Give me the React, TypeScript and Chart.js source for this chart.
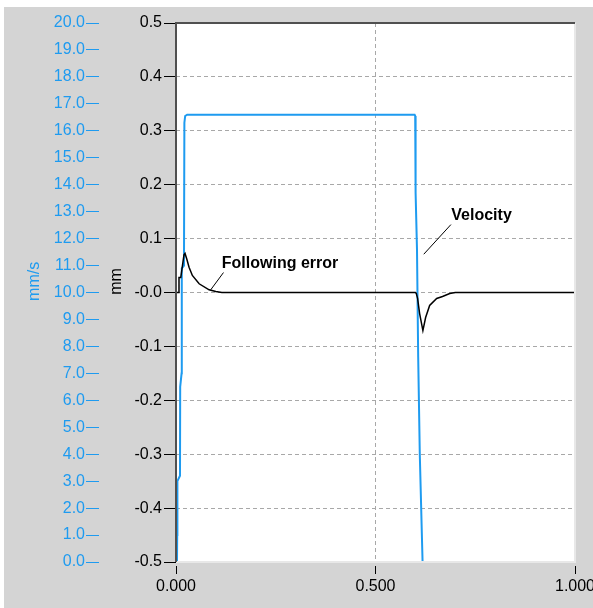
import React, { useEffect, useRef } from 'react';
import { Chart, registerables } from 'chart.js';

Chart.register(...registerables);

// Time axis (s)
const xTickValues = [0, 0.5, 1];

// Velocity (mm/s) vs time
const timeVelocity = [0.0025, 0.003, 0.0035, 0.010, 0.0105, 0.014, 0.0145, 0.020, 0.021, 0.023, 0.028, 0.598, 0.5995, 0.6005, 0.604, 0.607, 0.611, 0.618];
const velocityMmS = [0, 1.0, 3.0, 3.2, 6.5, 7.0, 10.9, 11.0, 16.3, 16.55, 16.6, 16.6, 16.55, 13.7, 11.6, 7.6, 4.0, 0];

// Following error (mm) vs time
const timeError = [0, 0.007, 0.0075, 0.012, 0.020, 0.0226, 0.027, 0.0327, 0.041, 0.058, 0.083, 0.0997, 0.115, 0.600, 0.6023, 0.6055, 0.6106, 0.6188, 0.6256, 0.6357, 0.6533, 0.668, 0.686, 0.700, 1.0];
const followingErrorMm = [0, 0, 0.028, 0.028, 0.070, 0.0725, 0.062, 0.047, 0.0316, 0.0162, 0.005, 0.0019, 0, 0, -0.002, -0.011, -0.039, -0.0706, -0.0465, -0.024, -0.011, -0.0074, -0.002, 0, 0];

// Axis ranges
const mmRange = [-0.5, 0.5];
const mmsRange = [0, 20];

// Annotations (time, mm)
const annotationTexts = ['Following error', 'Velocity'];
const annotationTextPos = [[0.1148, 0.054], [0.690, 0.143]];
const annotationLineFrom = [[0.087, 0.005], [0.621, 0.071]];
const annotationLineTo = [[0.119, 0.037], [0.689, 0.126]];

const BLUE = '#1e9bf0';
const FONT = "'Liberation Sans', Arial, sans-serif";

const framePlugin = {
  id: 'frameAndNotes',
  beforeDraw(chart: any) {
    const { ctx, chartArea } = chart;
    const { left, top, right, bottom } = chartArea;
    ctx.save();
    ctx.fillStyle = '#ffffff';
    ctx.fillRect(left, top, right - left, bottom - top);
    ctx.restore();
  },
  afterDatasetsDraw(chart: any) {
    const { ctx, chartArea, scales } = chart;
    const { left, top, right, bottom } = chartArea;
    ctx.save();
    // frame
    ctx.fillStyle = '#e8e8e8';
    ctx.fillRect(right - 1, top, 2, bottom - top + 1);
    ctx.fillRect(left, bottom - 1, right - left + 1, 2);
    ctx.fillStyle = '#505050';
    ctx.fillRect(left - 1, top - 1, 2, bottom - top + 1);
    ctx.fillRect(left - 1, top - 1, right - left + 1, 2);
    // annotations
    const xs = scales.x;
    const ys = scales.y;
    ctx.strokeStyle = '#000';
    ctx.lineWidth = 1;
    ctx.fillStyle = '#000';
    ctx.font = `bold 16px ${FONT}`;
    ctx.textAlign = 'left';
    ctx.textBaseline = 'middle';
    annotationTexts.forEach((t, i) => {
      ctx.beginPath();
      ctx.moveTo(xs.getPixelForValue(annotationLineFrom[i][0]), ys.getPixelForValue(annotationLineFrom[i][1]));
      ctx.lineTo(xs.getPixelForValue(annotationLineTo[i][0]), ys.getPixelForValue(annotationLineTo[i][1]));
      ctx.stroke();
      ctx.fillText(t, xs.getPixelForValue(annotationTextPos[i][0]), ys.getPixelForValue(annotationTextPos[i][1]));
    });
    ctx.restore();
  },
};

export default function App() {
  const ref = useRef<HTMLCanvasElement>(null);
  useEffect(() => {
    if (!ref.current) return;
    const font = { family: FONT, size: 16 };
    const chart = new Chart(ref.current, {
      type: 'line',
      data: {
        datasets: [
          {
            label: 'Following error',
            data: timeError.map((t, i) => ({ x: t, y: followingErrorMm[i] })),
            yAxisID: 'y',
            borderColor: '#000',
            borderWidth: 1.5,
            pointRadius: 0,
            tension: 0,
            order: 0,
          },
          {
            label: 'Velocity',
            data: timeVelocity.map((t, i) => ({ x: t, y: velocityMmS[i] })),
            yAxisID: 'y2',
            borderColor: BLUE,
            borderWidth: 2,
            pointRadius: 0,
            tension: 0,
            order: 1,
          },
        ],
      },
      options: {
        animation: false,
        responsive: false,
        devicePixelRatio: 1,
        layout: { padding: { top: 16, right: 18, left: 0, bottom: 0 } },
        plugins: { legend: { display: false }, tooltip: { enabled: false } },
        scales: {
          x: {
            type: 'linear',
            position: 'bottom',
            min: 0,
            max: 1,
            afterBuildTicks: (s: any) => {
              s.ticks = xTickValues.map((v) => ({ value: v }));
            },
            afterFit: (s: any) => {
              s.height = 46;
              s.paddingLeft = 0;
              s.paddingRight = 0;
            },
            ticks: {
              autoSkip: false,
              maxRotation: 0,
              color: '#000',
              font,
              padding: 3,
              callback: (v: any) => Number(v).toFixed(3),
            },
            grid: {
              color: '#a8a8a8',
              lineWidth: 1,
              tickColor: '#000',
              tickLength: 12,
              tickWidth: 1,
              tickBorderDash: [0, 4, 8, 100],
            },
            border: { display: false, dash: [4, 3] },
          },
          y: {
            type: 'linear',
            position: 'left',
            weight: 0,
            min: mmRange[0],
            max: mmRange[1],
            afterFit: (s: any) => {
              s.width = 77;
              s.paddingTop = 0;
              s.paddingBottom = 0;
            },
            ticks: {
              stepSize: 0.1,
              color: '#000',
              font,
              padding: 2,
              callback: (v: any) => (Math.abs(Number(v)) < 1e-9 ? '-0.0' : Number(v).toFixed(1)),
            },
            grid: {
              color: '#a8a8a8',
              lineWidth: 1,
              tickColor: '#000',
              tickLength: 12,
              tickWidth: 1,
            },
            border: { display: false, dash: [4, 3] },
            title: {
              display: true,
              text: '     mm',
              color: '#000',
              font,
              padding: { top: 8, bottom: 0 },
            },
          },
          y2: {
            type: 'linear',
            position: 'left',
            weight: 1,
            min: mmsRange[0],
            max: mmsRange[1],
            afterFit: (s: any) => {
              s.width = 95;
              s.paddingTop = 0;
              s.paddingBottom = 0;
            },
            ticks: {
              stepSize: 1,
              color: BLUE,
              font,
              padding: 1,
              callback: (v: any) => Number(v).toFixed(1),
            },
            grid: {
              drawOnChartArea: false,
              color: BLUE,
              tickColor: BLUE,
              tickLength: 13,
              tickWidth: 1,
            },
            border: { display: false },
            title: {
              display: true,
              text: '     mm/s',
              color: BLUE,
              font,
              padding: { top: 21, bottom: 0 },
            },
          },
        },
      } as any,
      plugins: [framePlugin],
    });
    return () => chart.destroy();
  }, []);

  return (
    <div style={{ position: 'absolute', left: 0, top: 0, width: 593, height: 608, background: '#ffffff', overflow: 'hidden' }}>
      <div style={{ position: 'absolute', left: 4, top: 7, width: 589, height: 601, background: '#d4d4d4' }}>
        <canvas ref={ref} width={589} height={601} style={{ display: 'block', width: 589, height: 601 }} />
      </div>
    </div>
  );
}
